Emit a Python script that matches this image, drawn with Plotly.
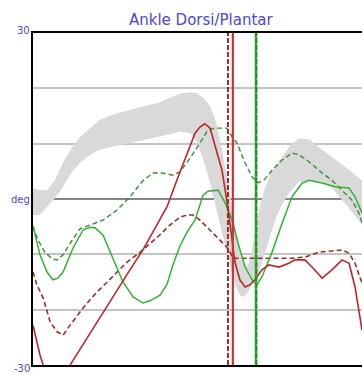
import plotly.graph_objects as go

# Gait cycle (%) and ankle dorsi/plantar flexion angle (deg)

# Normal range band
band_pct = [0, 2, 4, 6.3, 8.6, 11.1, 13.4, 16.3, 19.1, 23.4, 27.7, 32, 36.3, 39.1, 42, 44.9,
            46.9, 48.9, 50.6, 52.3, 54, 55.7, 56.9, 58, 59.1, 60.3, 61.4, 62.6, 63.7, 64.9,
            66.3, 67.7, 69.4, 71.1, 73.4, 76, 79.1, 82.6, 85.4, 88.3, 91.1, 94]
band_upper = [2.0, 1.6, 1.6, 3.4, 6.7, 9.2, 11.2, 12.8, 14.3, 15.4, 16.1, 16.8, 17.5, 18.3, 19.0, 19.3,
              19.1, 18.1, 16.8, 13.9, 8.9, 2.9, -2.0, -6.0, -9.2, -11.9, -12.1, -9.2, -4.7, -1.1,
              2.0, 4.3, 6.1, 7.6, 9.6, 11.0, 10.7, 8.9, 7.6, 6.1, 4.9, 3.4]
band_lower = [-2.9, -2.9, -1.4, 0.2, 2.2, 4.9, 6.5, 8.0, 8.9, 9.6, 10.1, 10.7, 11.2, 11.7, 12.2, 11.9,
              10.3, 6.7, 2.9, -1.6, -6.5, -11.0, -13.7, -15.9, -17.4, -17.7, -16.8, -15.5, -14.3, -12.5,
              -9.6, -6.5, -3.4, -1.1, 1.3, 3.1, 3.3, 3.1, 2.0, -0.2, -2.3, -4.7]

# Left side, solid red
red_pct = [0, 0.9, 2, 2.9, 4.9, 6.9, 8.9, 10.6, 16.3, 22, 27.7, 31.4, 34.9, 38.3, 41.1, 44,
           46.3, 47.7, 49.1, 50.6, 52, 54, 55.7, 56.9, 57.7, 59.1, 60.6, 62, 63.4, 65.4, 67.4,
           70.3, 73.1, 74.9, 77.7, 79.7, 82.6, 85.4, 88.3, 90.3, 92, 93.4, 94]
red_deg = [-22.8, -25.5, -28.2, -30, -33.6, -34.9, -33.6, -30, -24.2, -18.6, -12.8, -9.2, -5.2, -1.4, 3.4, 8.3,
           11.9, 13.0, 13.6, 12.8, 9.8, 5.2, -1.6, -7.0, -11.4, -14.6, -15.9, -15.5, -14.6, -12.8, -11.9,
           -12.3, -11.6, -11.0, -11.0, -12.3, -14.3, -12.8, -11.0, -11.6, -15.9, -21.3, -23.7]

# Left side, dashed red
red2_pct = [0, 1.1, 2.9, 4.9, 6.9, 8.6, 10.6, 14.3, 17.7, 21.1, 26.9, 30.6, 35.4, 39.1, 42, 44,
            45.7, 47.7, 51.4, 53.4, 55.4, 56.3, 57.1, 59.7, 74, 77.7, 81.7, 88.3, 90.3, 92, 94]
red2_deg = [-13.2, -15.5, -17.9, -22.2, -24.0, -24.6, -22.8, -19.7, -17.2, -15.0, -11.4, -9.6, -7.0, -4.7, -3.3, -2.9,
            -2.9, -3.8, -6.1, -7.4, -8.7, -9.6, -10.7, -10.7, -10.7, -10.5, -9.6, -9.2, -9.8, -11.6, -15.2]

# Right side, solid green
green_pct = [0, 0.9, 2, 4, 5.7, 7.1, 8.6, 11.4, 14.3, 16.3, 17.7, 20, 22.9, 25.7, 28.6, 31.4,
             33.4, 36.3, 38.3, 40, 42, 44, 46.3, 48.6, 50, 52.9, 54.9, 56.9, 58.6, 60.6, 62.6,
             64, 65.4, 68.3, 71.1, 74, 76.9, 78.9, 82.6, 86.3, 90.3, 92, 94]
green_deg = [-4.9, -7.4, -10.1, -13.2, -14.6, -14.3, -13.2, -8.9, -5.6, -5.1, -5.2, -6.5, -10.7, -15.0, -17.7, -18.8,
             -18.4, -17.4, -15.4, -11.9, -8.5, -6.0, -3.8, 0.7, 1.4, 1.6, -0.7, -3.8, -8.0, -12.3, -14.6,
             -15.5, -14.1, -9.6, -4.5, 0.4, 2.9, 3.4, 2.9, 2.2, 2.0, 0.4, -2.5]

# Right side, dashed green
green2_pct = [0, 1.4, 3.4, 5.4, 6.9, 8.6, 10.6, 13.4, 16.3, 20, 24, 27.7, 31.4, 34.3, 37.1, 40,
              42, 44.9, 47.7, 50, 52, 54, 55.4, 56.9, 58.3, 60.6, 62.6, 64.3, 66.3, 68.3, 71.1,
              74, 76, 78.9, 82.6, 85.4, 88.3, 91.1, 93.1, 94]
green2_deg = [-4.9, -7.4, -9.6, -10.8, -11.0, -10.1, -8.0, -5.4, -4.7, -3.8, -2.0, 0.4, 3.3, 4.7, 4.7, 4.3,
              4.9, 7.4, 10.1, 12.5, 12.8, 12.8, 12.8, 11.2, 10.1, 6.5, 4.0, 2.9, 3.6, 5.2, 7.0,
              8.3, 8.0, 6.7, 4.7, 3.4, 1.6, -0.2, -2.5, -4.3]

# Toe-off events (% of gait cycle)
toe_off_red = 57.1
toe_off_red2 = 55.7
toe_off_green = 63.7
toe_off_green2 = 63.8

y_ticks = [30, 0, -30]
y_tick_text = ["30", "deg", "-30"]
title_text = "Ankle Dorsi/Plantar"

RED = "#b8282a"
RED_DARK = "#93302a"
GREEN = "#33b033"
GREEN_DARK = "#3a8a3a"
LABEL = "#4a4ad2"

fig = go.Figure()

fig.add_trace(go.Scatter(x=band_pct, y=band_upper, mode="lines",
                         line=dict(width=0, color="#d9d9d9"), hoverinfo="skip"))
fig.add_trace(go.Scatter(x=band_pct, y=band_lower, mode="lines", fill="tonexty",
                         fillcolor="#d9d9d9", line=dict(width=0, color="#d9d9d9"), hoverinfo="skip"))

fig.add_trace(go.Scatter(x=green2_pct, y=green2_deg, mode="lines",
                         line=dict(color=GREEN_DARK, width=1.4, dash="5px,3px")))
fig.add_trace(go.Scatter(x=red2_pct, y=red2_deg, mode="lines",
                         line=dict(color=RED_DARK, width=1.6, dash="5px,3px")))
fig.add_trace(go.Scatter(x=green_pct, y=green_deg, mode="lines",
                         line=dict(color=GREEN, width=1.5)))
fig.add_trace(go.Scatter(x=red_pct, y=red_deg, mode="lines",
                         line=dict(color=RED, width=1.6)))

# Toe-off markers
shapes = [
    dict(type="line", xref="x", yref="paper", x0=toe_off_red2, x1=toe_off_red2, y0=0, y1=1,
         line=dict(color=RED_DARK, width=2, dash="5px,2px")),
    dict(type="line", xref="x", yref="paper", x0=toe_off_red, x1=toe_off_red, y0=0, y1=1,
         line=dict(color="#cc3333", width=2.2)),
    dict(type="line", xref="x", yref="paper", x0=toe_off_green, x1=toe_off_green, y0=0, y1=1,
         line=dict(color=GREEN, width=2.5)),
    dict(type="line", xref="x", yref="paper", x0=toe_off_green2, x1=toe_off_green2, y0=0, y1=1,
         line=dict(color="#1f8f1f", width=2, dash="5px,2px")),
]

annotations = [
    dict(text=title_text, xref="paper", yref="paper", x=0.511, y=1.039,
         xanchor="center", yanchor="middle", showarrow=False,
         font=dict(family="DejaVu Sans", size=15, color=LABEL)),
]
for val, txt in zip(y_ticks, y_tick_text):
    shift = 3 if val > 0 else (-3 if val < 0 else 0)
    annotations.append(dict(text=txt, xref="paper", yref="y", x=0, y=val,
                            xanchor="right", yanchor="middle", xshift=-1, yshift=shift,
                            showarrow=False,
                            font=dict(family="DejaVu Sans", size=10, color=LABEL)))

fig.update_layout(
    width=362, height=374,
    margin=dict(l=33, r=0, t=33, b=9),
    paper_bgcolor="white", plot_bgcolor="white",
    showlegend=False,
    shapes=shapes,
    annotations=annotations,
    xaxis=dict(range=[0, 94], showgrid=False, zeroline=False, showticklabels=False,
               ticks="", showline=True, mirror=True, linecolor="black", linewidth=2),
    yaxis=dict(range=[-30, 30], dtick=10, showgrid=True, gridcolor="#c4c4c4", gridwidth=1.5,
               zeroline=True, zerolinecolor="#858585", zerolinewidth=2,
               showticklabels=False, ticks="", showline=True, mirror=False,
               linecolor="black", linewidth=2),
)

fig.write_html("out.html")
